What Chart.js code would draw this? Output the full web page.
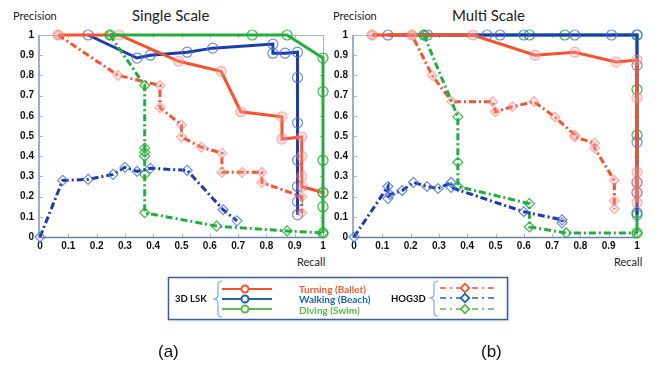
<!DOCTYPE html>
<html>
<head>
<meta charset="utf-8">
<script src="https://cdn.jsdelivr.net/npm/chart.js@4.4.1/dist/chart.umd.min.js"></script>
<style>
  body { margin:0; width:665px; height:368px; background:#fff; position:relative; overflow:hidden; font-family:'Lato', sans-serif; }
  canvas { position:absolute; }
  .lbl { position:absolute; white-space:nowrap; color:#222; }
  .title { font-size:15px; top:6px; }
  .axt { font-size:11px; }
  .cap { font-family:'Liberation Sans', Arial, sans-serif; font-size:17px; top:342px; color:#111; }
</style>
</head>
<body>

<div class="lbl axt" style="left:13px;top:9px">Precision</div>
<div class="lbl title" style="left:132px">Single Scale</div>
<div class="lbl axt" style="left:297px;top:255px">Recall</div>

<div class="lbl axt" style="left:333px;top:9px">Precision</div>
<div class="lbl title" style="left:452px">Multi Scale</div>
<div class="lbl axt" style="left:614px;top:255px">Recall</div>

<canvas id="chartSingle" width="330" height="270" style="left:0;top:0"></canvas>
<canvas id="chartMulti" width="335" height="270" style="left:330px;top:0"></canvas>

<!-- legend -->
<svg style="position:absolute;left:0;top:0" width="665" height="368">
  <defs>
    <filter id="sh" x="-5%" y="-20%" width="110%" height="140%">
      <feDropShadow dx="1" dy="1" stdDeviation="1" flood-color="#9aa" flood-opacity="0.4"/>
    </filter>
  </defs>
  <rect x="168.5" y="277.5" width="339" height="42" fill="#fff" stroke="#3d5f95" stroke-width="1.5" filter="url(#sh)"/>
  <text x="175" y="302" font-family="Lato" font-weight="bold" font-size="9.5" fill="#111">3D LSK</text>
  <path d="M222 281 Q218 281 218 285 L218 295 Q218 299 213 299 Q218 299 218 303 L218 313 Q218 317 222 317" fill="none" stroke="#7aaad8" stroke-width="1.2"/>
  <line x1="222" y1="289" x2="272" y2="289" stroke="#f4532e" stroke-width="2"/>
  <circle cx="245" cy="289" r="3.5" fill="#fff" stroke="#f4532e" stroke-width="2"/>
  <line x1="222" y1="299" x2="272" y2="299" stroke="#1c62b8" stroke-width="2"/>
  <circle cx="245" cy="299" r="3.5" fill="#fff" stroke="#1c62b8" stroke-width="2"/>
  <line x1="222" y1="309" x2="272" y2="309" stroke="#5cb84a" stroke-width="2"/>
  <circle cx="245" cy="309" r="3.5" fill="#fff" stroke="#5cb84a" stroke-width="2"/>
  <text x="299" y="293" font-family="Lato" font-weight="bold" font-size="10" fill="#f0583a">Turning (Ballet)</text>
  <text x="299" y="303" font-family="Lato" font-weight="bold" font-size="10" fill="#1c62b8">Walking (Beach)</text>
  <text x="299" y="313.5" font-family="Lato" font-weight="bold" font-size="10" fill="#5cb84a">Diving (Swim)</text>
  <text x="391" y="302" font-family="Lato" font-weight="bold" font-size="9.5" fill="#111">HOG3D</text>
  <path d="M438 281 Q434 281 434 285 L434 294 Q434 298 429 298 Q434 298 434 302 L434 312 Q434 316 438 316" fill="none" stroke="#7aaad8" stroke-width="1.2"/>
  <line x1="440" y1="288" x2="495" y2="288" stroke="#f4532e" stroke-width="1.6" stroke-dasharray="6 4 2 4"/>
  <rect x="462" y="285" width="6" height="6" transform="rotate(45 465 288)" fill="#fff" stroke="#f4532e" stroke-width="1.8"/>
  <line x1="440" y1="298" x2="495" y2="298" stroke="#1c62b8" stroke-width="1.6" stroke-dasharray="6 4 2 4"/>
  <rect x="462" y="295" width="6" height="6" transform="rotate(45 465 298)" fill="#fff" stroke="#1c62b8" stroke-width="1.8"/>
  <line x1="440" y1="309" x2="495" y2="309" stroke="#5cb84a" stroke-width="1.6" stroke-dasharray="6 4 2 4"/>
  <rect x="462" y="306" width="6" height="6" transform="rotate(45 465 309)" fill="#fff" stroke="#5cb84a" stroke-width="1.8"/>
</svg>

<div class="lbl cap" style="left:158px">(a)</div>
<div class="lbl cap" style="left:481px">(b)</div>

<script>
// ---------- tick labels ----------
const xTickLabels = ['0', '0.1', '0.2', '0.3', '0.4', '0.5', '0.6', '0.7', '0.8', '0.9', '1'];
const yTickLabels = ['0', '0.1', '0.2', '0.3', '0.4', '0.5', '0.6', '0.7', '0.8', '0.9', '1'];

// ---------- Single Scale: [recall, precision] ----------
const singleTurningLSK = [[0.064,1],[0.28,1],[0.49,0.87],[0.64,0.82],[0.71,0.62],[0.855,0.595],[0.855,0.485],
    [0.925,0.495],[0.925,0.40],[0.925,0.30],[0.925,0.25],[1,0.22]];
const singleWalkingLSK = [[0.17,1],[0.343,0.886],[0.39,0.90],[0.52,0.915],[0.61,0.935],[0.823,0.955],[0.823,0.91],
    [0.866,0.91],[0.91,0.915],[0.91,0.79],[0.91,0.565],[0.91,0.38],[0.91,0.25],[0.91,0.175],[0.91,0.11]];
const singleDivingLSK = [[0.247,1],[0.75,1],[0.873,1],[1,0.886],[1,0.72],[1,0.38],[1,0.22],[1,0.15],[1,0.02]];
const singleTurningHOG = [[0.064,1],[0.276,0.80],[0.424,0.75],[0.424,0.64],[0.50,0.555],[0.50,0.495],[0.57,0.445],
    [0.643,0.415],[0.643,0.32],[0.714,0.32],[0.784,0.32],[0.784,0.27],[0.925,0.20],[0.925,0.12]];
const singleWalkingHOG = [[0,0],[0.08,0.28],[0.17,0.285],[0.258,0.31],[0.30,0.345],[0.343,0.325],[0.39,0.34],
    [0.52,0.33],[0.647,0.135],[0.696,0.08]];
const singleDivingHOG = [[0.247,1],[0.37,0.75],[0.37,0.44],[0.37,0.42],[0.37,0.40],[0.37,0.31],[0.37,0.12],
    [0.624,0.054],[0.873,0.03],[1,0.02]];

// ---------- Multi Scale ----------
const multiTurningLSK = [[0.064,1],[0.205,1],[0.42,1],[0.64,0.90],[0.78,0.915],[0.926,0.866],[1,0.876],
    [1,0.69],[1,0.32],[1,0.27],[1,0.22],[1,0.17]];
const multiWalkingLSK = [[0.12,1],[0.26,1],[0.47,1],[0.516,1],[0.60,1],[0.78,1],[0.91,1],[1,1],
    [1,0.85],[1,0.47],[1,0.27],[1,0.22],[1,0.11]];
const multiDivingLSK = [[0.247,1],[0.62,1],[0.745,1],[1,1],[1,0.73],[1,0.505],[1,0.12],[1,0.02]];
const multiTurningHOG = [[0.064,1],[0.205,1],[0.276,0.80],[0.346,0.67],[0.49,0.67],[0.50,0.62],[0.56,0.645],
    [0.636,0.67],[0.71,0.594],[0.78,0.505],[0.78,0.495],[0.85,0.465],[0.85,0.44],[0.92,0.28],[0.92,0.18],[0.92,0.14]];
const multiWalkingHOG = [[0,0],[0.12,0.25],[0.12,0.19],[0.127,0.21],[0.17,0.23],[0.21,0.27],[0.258,0.25],
    [0.297,0.24],[0.343,0.27],[0.343,0.245],[0.60,0.125],[0.735,0.085],[0.735,0.07]];
const multiDivingHOG = [[0.247,1],[0.367,0.595],[0.367,0.37],[0.367,0.25],[0.62,0.165],[0.62,0.05],[0.75,0.02],[1,0.02]];

// ---------- styles ----------
const RED = '#f4532e', BLUE = '#1c3cae', GREEN = '#22ae3c';
const DASH = [7, 3, 2, 3];

function lsk(data, color, markerBorder, markerFill) {
    return {
        data: data.map(p => ({ x: p[0], y: p[1] })),
        borderColor: color, borderWidth: 3, showLine: true, tension: 0,
        pointStyle: 'circle', pointRadius: 5, pointBorderWidth: 1.2,
        pointBorderColor: markerBorder, pointBackgroundColor: markerFill,
        clip: false
    };
}
function hog(data, color, markerBorder, markerFill) {
    return {
        data: data.map(p => ({ x: p[0], y: p[1] })),
        borderColor: color, borderWidth: 3, borderDash: DASH, showLine: true, tension: 0,
        pointStyle: 'rectRot', pointRadius: 5, pointBorderWidth: 1.2,
        pointBorderColor: markerBorder, pointBackgroundColor: markerFill,
        clip: false
    };
}

// frame with small inner ticks
const framePlugin = {
    id: 'frame',
    beforeDatasetsDraw(chart) {
        const { ctx, chartArea: a, scales } = chart;
        ctx.save();
        ctx.lineWidth = 1;
        ctx.strokeStyle = '#aab6c6';
        ctx.beginPath();
        ctx.moveTo(a.left, a.top + 0.5); ctx.lineTo(a.right + 0.5, a.top + 0.5); ctx.lineTo(a.right + 0.5, a.bottom);
        for (let i = 1; i < 10; i++) {
            const px = Math.round(scales.x.getPixelForValue(i / 10)) + 0.5;
            const py = Math.round(scales.y.getPixelForValue(i / 10)) + 0.5;
            ctx.moveTo(px, a.top); ctx.lineTo(px, a.top + 3);
            ctx.moveTo(a.right, py); ctx.lineTo(a.right - 3, py);
            ctx.moveTo(px, a.bottom); ctx.lineTo(px, a.bottom - 3);
            ctx.moveTo(a.left, py); ctx.lineTo(a.left + 3, py);
        }
        ctx.stroke();
        ctx.strokeStyle = '#6784ad';
        ctx.lineWidth = 1.3;
        ctx.beginPath();
        ctx.moveTo(a.left - 1, a.top); ctx.lineTo(a.left - 1, a.bottom + 0.5); ctx.lineTo(a.right, a.bottom + 0.5);
        ctx.stroke();
        ctx.restore();
    }
};

function makeChart(id, datasets, yWidth, padRight) {
    const tickFont = { family: "'Liberation Sans', Arial, sans-serif", weight: 'bold', size: 10 };
    new Chart(document.getElementById(id), {
        type: 'scatter',
        data: { datasets },
        options: {
            responsive: false,
            animation: false,
            layout: { padding: { left: 0, right: padRight, top: 35, bottom: 0 } },
            plugins: { legend: { display: false }, tooltip: { enabled: false } },
            scales: {
                x: {
                    type: 'linear', min: 0, max: 1,
                    ticks: { stepSize: 0.1, font: tickFont, color: '#111', padding: 3, maxRotation: 0,
                        callback: (v, i) => xTickLabels[i] },
                    grid: { display: false, drawTicks: false },
                    border: { display: false },
                    afterFit(s) { s.height = 33; }
                },
                y: {
                    type: 'linear', min: 0, max: 1,
                    ticks: { stepSize: 0.1, font: tickFont, color: '#111', padding: 6,
                        callback: (v, i) => yTickLabels[i] },
                    grid: { display: false, drawTicks: false },
                    border: { display: false },
                    afterFit(s) { s.width = yWidth; }
                }
            }
        },
        plugins: [framePlugin]
    });
}

const redMk = ['rgba(240,120,120,0.55)', 'rgba(250,170,170,0.3)'];
const blueMk = ['rgba(70,110,220,0.8)', 'rgba(0,0,0,0)'];
const greenMk = ['rgba(40,175,60,0.9)', 'rgba(0,0,0,0)'];

makeChart('chartSingle', [
    hog(singleWalkingHOG, BLUE, ...blueMk),
    hog(singleDivingHOG, GREEN, ...greenMk),
    hog(singleTurningHOG, RED, ...redMk),
    lsk(singleDivingLSK, GREEN, ...greenMk),
    lsk(singleTurningLSK, RED, ...redMk),
    lsk(singleWalkingLSK, BLUE, ...blueMk)
], 40, 7);

makeChart('chartMulti', [
    hog(multiWalkingHOG, BLUE, ...blueMk),
    hog(multiDivingHOG, GREEN, ...greenMk),
    hog(multiTurningHOG, RED, ...redMk),
    lsk(multiTurningLSK, RED, ...redMk),
    lsk(multiWalkingLSK, BLUE, ...blueMk),
    lsk(multiDivingLSK, GREEN, ...greenMk)
], 24, 28);
</script>
</body>
</html>
